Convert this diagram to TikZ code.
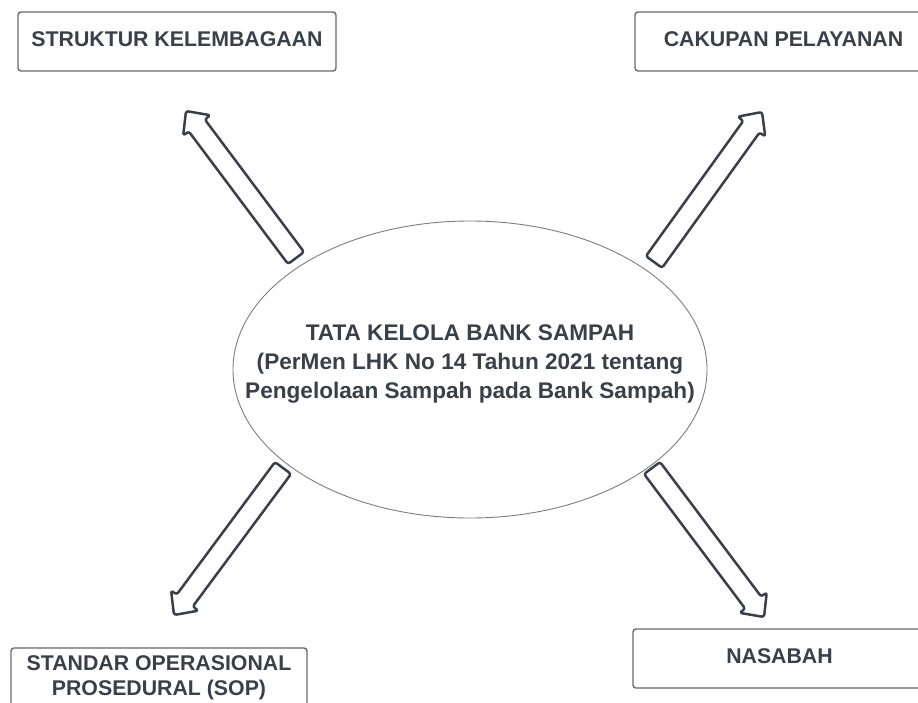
\documentclass[tikz,border=0pt]{standalone}
\usepackage{fontspec}
\setmainfont{Liberation Sans}
\usetikzlibrary{calc,shapes.geometric}
\definecolor{inkgray}{RGB}{58,64,73}
\definecolor{boxgray}{RGB}{105,105,105}
\definecolor{rimgray}{RGB}{125,125,125}
\tikzset{
    every node/.style={font=\bfseries\fontsize{21.3}{25}\selectfont, text=inkgray}
}
\tikzset{
    topic/.style={rectangle, draw=boxgray, line width=1.4pt, rounded corners=3pt, inner sep=0pt, align=center, minimum height=59pt},
    hub/.style={ellipse, draw=rimgray, line width=0.9pt, minimum width=474pt, minimum height=297pt, inner sep=0pt},
    blockarr/.style={draw=inkgray, fill=white, line width=2.5pt, rounded corners=2.5pt, line join=round}
}
% outlined block arrow from #1 to #2
\newcommand{\blockarrow}[2]{%
    \coordinate (#1-h) at ($(#2)!18pt!(#1)$);
    \draw[blockarr] ($(#1)!10pt!90:(#2)$) -- ($(#1-h)!10pt!90:(#2)$) -- ($(#1-h)!17pt!90:(#2)$)
        -- (#2) -- ($(#1-h)!17pt!-90:(#2)$) -- ($(#1-h)!10pt!-90:(#2)$) -- ($(#1)!10pt!-90:(#2)$) -- cycle;
}

\begin{document}
\begin{tikzpicture}[x=1pt, y=-1pt]
    \clip (0,0) rectangle (918,702);
    \fill[white] (0,0) rectangle (918,702);

    \node (tata) at (470,369.5) [hub] {};
    \node (tatalabel) at (470,364) [align=center, font=\bfseries\fontsize{22.6}{29}\selectfont]
        {TATA KELOLA BANK SAMPAH\\(PerMen LHK No 14 Tahun 2021 tentang\\Pengelolaan Sampah pada Bank Sampah)};

    \node (struktur) at (177,41.5) [topic, minimum width=318pt, text height=15pt, text depth=6pt] {STRUKTUR KELEMBAGAAN};
    \node (cakupan) at (783.5,41.5) [topic, minimum width=297pt, text height=15pt, text depth=6pt] {CAKUPAN PELAYANAN};
    \node (sop) at (159,677.5) [topic, minimum width=296pt] {STANDAR OPERASIONAL\\PROSEDURAL (SOP)};
    \node (nasabah) at (779.5,658.5) [topic, minimum width=293pt, text height=15pt, text depth=6pt] {NASABAH};

    \coordinate (ul) at (296,258);
    \coordinate (ul-tip) at (186,111);
    \coordinate (ur) at (654,262);
    \coordinate (ur-tip) at (762,112);
    \coordinate (ll) at (283,468);
    \coordinate (ll-tip) at (174,615);
    \coordinate (lr) at (652,468);
    \coordinate (lr-tip) at (764,617);

    \blockarrow{ul}{ul-tip}
    \blockarrow{ur}{ur-tip}
    \blockarrow{ll}{ll-tip}
    \blockarrow{lr}{lr-tip}
\end{tikzpicture}
\end{document}
